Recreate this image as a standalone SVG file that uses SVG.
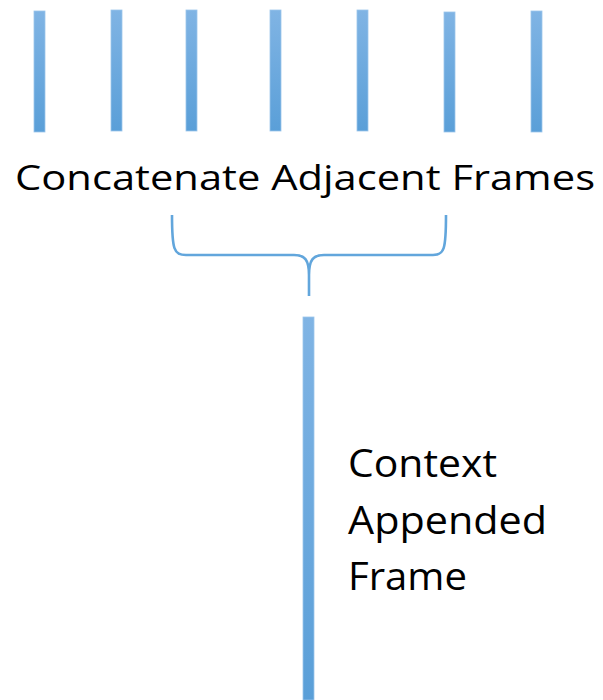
<svg xmlns="http://www.w3.org/2000/svg" width="603" height="700" viewBox="0 0 603 700">
<defs>
<linearGradient id="barGrad" x1="0" y1="0" x2="0" y2="1">
<stop offset="0" stop-color="#80b4e4"/>
<stop offset="1" stop-color="#5a9fd8"/>
</linearGradient>
<style>
.bar{fill:url(#barGrad);stroke:#9cc6ec;stroke-width:0.8}
.lbl{font-family:"Open Sans","Noto Sans",sans-serif;fill:#000}
.brace{fill:none;stroke:#62a6dc;stroke-width:2.6}
</style>
</defs>
<rect width="603" height="700" fill="#fff"/>
<g id="frame1"><rect class="bar" x="34" y="11" width="11" height="121"/></g>
<g id="frame2"><rect class="bar" x="111" y="10" width="11" height="121"/></g>
<g id="frame3"><rect class="bar" x="186" y="10" width="11" height="121"/></g>
<g id="frame4"><rect class="bar" x="270" y="10" width="11" height="121"/></g>
<g id="frame5"><rect class="bar" x="357" y="10" width="11" height="121"/></g>
<g id="frame6"><rect class="bar" x="444" y="12" width="11" height="120"/></g>
<g id="frame7"><rect class="bar" x="531" y="11" width="11" height="121"/></g>
<g id="title"><text class="lbl" x="15" y="190" font-size="35" textLength="580" lengthAdjust="spacingAndGlyphs">Concatenate Adjacent Frames</text></g>
<g id="connectors">
<path class="brace" d="M172,215 C172,250 174,255 186,255 L294,255 C305,255 309,260 309,275 L309,296 M309,275 C309,260 313,255 324,255 L433,255 C444,255 446,250 446,215"/>
</g>
<g id="appended"><rect class="bar" x="303" y="317" width="11" height="383"/></g>
<g id="appendedLabel">
<text class="lbl" x="348" y="477" font-size="38" textLength="149" lengthAdjust="spacingAndGlyphs">Context</text>
<text class="lbl" x="348" y="534" font-size="38" textLength="199" lengthAdjust="spacingAndGlyphs">Appended</text>
<text class="lbl" x="348" y="590" font-size="38" textLength="119" lengthAdjust="spacingAndGlyphs">Frame</text>
</g>
</svg>
